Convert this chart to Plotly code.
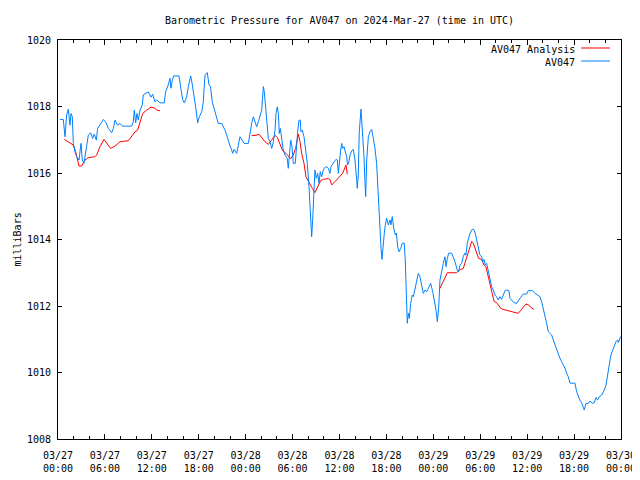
import pandas as pd
import plotly.graph_objects as go

# ---------------- data ----------------
BASE = "2024-03-27 00:00"

# AV047 observations: hours since 2024-03-27 00:00 UTC, pressure (mb)
obs_hours = [
    0.26, 0.68, 0.81, 0.90, 1.10, 1.32, 1.53, 1.66, 1.83, 1.96, 2.17, 2.39, 2.69, 2.94, 3.11,
    3.32, 3.58, 3.88, 4.18, 4.43, 4.64, 4.90, 5.07, 5.46, 5.80, 6.09, 6.44, 6.86, 7.08, 7.29,
    7.59, 7.93, 8.23, 9.42, 9.63, 9.76, 9.93, 10.10, 10.27, 10.49, 10.78, 10.91, 11.34, 11.55,
    11.89, 12.11, 12.40, 12.62, 13.04, 13.59, 13.77, 14.10, 14.32, 14.45, 14.62, 14.79, 15.47,
    15.73, 15.94, 16.15, 16.45, 16.67, 16.97, 17.18, 17.43, 17.60, 17.86, 18.07, 18.38, 18.58,
    18.80, 19.09, 19.31, 19.50, 19.73, 20.08, 20.29, 20.50, 20.93, 21.14, 21.36, 21.57, 21.78,
    22.00, 22.21, 22.34, 22.51, 22.72, 22.85, 23.06, 23.27, 23.49, 23.79, 24.34, 24.55, 24.77,
    24.98, 25.19, 25.41, 25.62, 25.83, 26.05, 26.17, 26.26, 26.38, 26.51, 26.69, 26.90, 27.11,
    27.33, 27.54, 27.75, 27.88, 28.05, 28.18, 28.30, 28.43, 28.60, 28.81, 29.03, 29.32, 29.45,
    29.58, 29.76, 29.93, 30.09, 30.35, 30.53, 30.65, 30.82, 30.99, 31.07, 31.24, 31.46, 31.71,
    31.88, 32.10, 32.23, 32.35, 32.44, 32.57, 32.74, 32.86, 33.03, 33.21, 33.38, 33.54, 33.72,
    33.93, 34.14, 34.36, 34.57, 34.78, 34.91, 35.12, 35.33, 35.55, 35.72, 35.85, 35.98, 36.15,
    36.28, 36.40, 36.57, 36.74, 36.92, 37.04, 37.21, 37.34, 37.56, 37.76, 37.98, 38.20, 38.27,
    38.40, 38.53, 38.75, 38.96, 39.13, 39.26, 39.35, 39.48, 39.69, 39.90, 40.11, 40.32, 40.54,
    40.75, 40.88, 41.01, 41.18, 41.30, 41.43, 41.56, 41.73, 41.86, 42.03, 42.24, 42.46, 42.58,
    42.75, 42.97, 43.14, 43.27, 43.44, 43.61, 43.83, 44.03, 44.28, 44.41, 44.50, 44.59, 44.67,
    44.80, 44.93, 45.10, 45.31, 45.44, 45.65, 45.87, 46.08, 46.29, 46.51, 46.72, 46.93, 47.15,
    47.36, 47.66, 47.92, 48.08, 48.34, 48.51, 48.68, 48.85, 49.07, 49.27, 49.49, 49.62, 49.79,
    49.96, 50.35, 50.56, 50.77, 51.06, 51.24, 51.41, 51.62, 51.83, 52.01, 52.17, 52.34, 52.52,
    52.69, 52.98, 53.20, 53.36, 53.54, 53.75, 53.96, 54.18, 54.31, 54.48, 54.65, 54.82, 55.03,
    55.24, 55.46, 55.67, 55.88, 56.09, 56.31, 56.52, 56.73, 56.95, 57.16, 57.37, 57.67, 57.80,
    58.02, 58.31, 58.66, 58.91, 59.08, 59.50, 59.93, 60.14, 60.70, 61.00, 61.29, 61.64, 61.85,
    62.06, 62.28, 62.49, 62.70, 63.13, 63.34, 63.55, 63.77, 63.98, 64.19, 64.40, 64.62, 64.83,
    65.05, 65.26, 65.47, 66.11, 66.33, 66.54, 66.75, 66.97, 67.18, 67.30, 67.52, 67.82, 68.03,
    68.37, 68.58, 68.80, 69.01, 69.22, 69.52, 69.86, 70.08, 70.29, 70.50, 70.72, 70.93, 71.14,
    71.36, 71.57, 71.65, 71.96,
]
obs_mb = [
    1017.61, 1017.61, 1017.29, 1017.09, 1017.74, 1017.92, 1017.44, 1017.79, 1017.69, 1016.89,
    1016.64, 1016.49, 1016.39, 1016.89, 1016.39, 1016.29, 1016.69, 1017.14, 1017.21, 1017.04,
    1017.17, 1016.99, 1017.34, 1017.49, 1017.61, 1017.54, 1017.34, 1017.21, 1017.34, 1017.59,
    1017.44, 1017.49, 1017.41, 1017.41, 1017.54, 1017.89, 1017.51, 1017.79, 1017.59, 1017.89,
    1018.05, 1018.35, 1018.40, 1018.44, 1018.28, 1018.37, 1018.14, 1018.20, 1018.11, 1018.11,
    1018.45, 1018.65, 1018.85, 1018.55, 1018.80, 1018.92, 1018.92, 1018.50, 1018.20, 1018.11,
    1018.29, 1018.60, 1018.92, 1018.65, 1018.29, 1017.99, 1017.51, 1017.69, 1017.84, 1018.14,
    1018.95, 1019.02, 1018.65, 1018.60, 1018.14, 1017.84, 1017.69, 1017.49, 1017.49, 1017.41,
    1017.29, 1017.14, 1016.94, 1016.81, 1016.69, 1016.59, 1016.71, 1016.64, 1016.59, 1016.84,
    1017.09, 1017.01, 1016.89, 1016.89, 1017.24, 1017.49, 1017.69, 1017.54, 1017.39, 1017.54,
    1017.69, 1017.89, 1018.29, 1018.60, 1018.45, 1018.05, 1017.44, 1017.04, 1016.94, 1016.74,
    1016.94, 1017.29, 1017.79, 1017.99, 1017.79, 1017.19, 1017.34, 1017.09, 1016.69, 1016.54,
    1016.44, 1016.14, 1016.49, 1016.99, 1016.79, 1016.29, 1016.29, 1016.99, 1017.24, 1017.59,
    1017.59, 1017.24, 1017.29, 1017.09, 1016.69, 1016.29, 1015.59, 1015.09, 1014.39, 1014.08,
    1014.59, 1015.39, 1016.09, 1015.84, 1015.99, 1015.69, 1016.04, 1015.89, 1016.09, 1016.17,
    1016.19, 1016.14, 1015.99, 1016.19, 1016.29, 1016.34, 1016.41, 1016.39, 1015.99, 1016.39,
    1016.69, 1016.89, 1016.74, 1016.79, 1016.64, 1016.49, 1016.24, 1016.34, 1016.54, 1016.67,
    1016.71, 1016.39, 1015.79, 1015.54, 1015.94, 1017.24, 1017.92, 1017.19, 1016.49, 1015.69,
    1015.29, 1016.39, 1017.09, 1017.24, 1017.31, 1017.04, 1016.74, 1016.29, 1015.59, 1014.99,
    1014.44, 1013.78, 1013.40, 1013.89, 1014.19, 1014.44, 1014.64, 1014.44, 1014.59, 1014.44,
    1014.69, 1014.29, 1014.14, 1014.19, 1013.78, 1013.63, 1013.73, 1013.89, 1013.89, 1013.38,
    1012.78, 1012.23, 1011.48, 1011.78, 1011.63, 1012.08, 1012.33, 1012.28, 1012.53, 1012.73,
    1012.98, 1012.88, 1012.63, 1012.38, 1012.48, 1012.43, 1012.53, 1012.68, 1012.43, 1012.23,
    1011.88, 1011.53, 1011.93, 1012.78, 1013.08, 1013.28, 1013.48, 1013.18, 1013.43, 1013.59,
    1013.59, 1013.48, 1013.33, 1013.08, 1013.03, 1013.23, 1013.28, 1013.48, 1013.59, 1013.53,
    1013.89, 1014.04, 1014.19, 1014.31, 1014.29, 1014.19, 1014.01, 1013.78, 1013.53, 1013.48,
    1013.33, 1013.40, 1013.23, 1013.28, 1013.03, 1012.78, 1012.58, 1012.48, 1012.33, 1012.28,
    1012.18, 1012.28, 1012.20, 1012.33, 1012.46, 1012.48, 1012.46, 1012.23, 1012.18, 1012.10,
    1012.08, 1012.18, 1012.23, 1012.36, 1012.36, 1012.46, 1012.46, 1012.38, 1012.33, 1012.28,
    1012.13, 1011.93, 1011.73, 1011.48, 1011.23, 1011.13, 1010.98, 1010.83, 1010.73, 1010.58,
    1010.43, 1010.33, 1010.23, 1010.13, 1009.98, 1009.87, 1009.68, 1009.68, 1009.42, 1009.29,
    1009.17, 1009.09, 1008.97, 1008.87, 1009.07, 1009.07, 1009.14, 1009.07, 1009.09, 1009.25,
    1009.17, 1009.27, 1009.32, 1009.47, 1009.62, 1009.98, 1010.23, 1010.53, 1010.68, 1010.83,
    1010.93, 1010.98, 1010.90, 1011.08,
]

# AV047 Analysis (None = gap)
ana_hours = [
    0.81, 1.53, 1.96, 2.26, 2.69, 3.03, 3.45, 3.88, 4.73, 4.94, 5.37, 5.88, 6.22, 6.73, 7.29,
    7.93, 8.99, 9.42, 9.85, 10.19, 10.49, 10.83, 11.34, 11.89, 12.40, 12.62, 13.04,
    18.00,
    24.77, 25.19, 25.74, 26.05, 26.47, 26.90, 27.33, 27.75, 28.05, 28.39, 28.73, 29.16, 29.45,
    29.76, 30.09, 30.39, 30.73, 30.95, 31.16, 31.46, 31.71, 32.14, 32.52, 32.86, 33.16, 33.59,
    33.93, 34.57, 34.78, 35.00, 35.42, 35.98, 36.40, 36.83, 37.00,
    42.00,
    48.85, 49.27, 49.79, 50.98, 51.32, 51.83, 52.26, 52.56, 52.90, 53.10, 53.45, 53.79, 54.18,
    54.48, 54.73, 55.03, 55.33, 55.59, 55.75, 56.18, 56.61, 57.03, 57.80, 58.66, 58.86, 59.50,
    59.85, 60.20, 60.45, 60.87,
]
ana_mb = [
    1017.01, 1016.91, 1016.84, 1016.64, 1016.21, 1016.21, 1016.39, 1016.46, 1016.49, 1016.54,
    1016.79, 1017.01, 1016.89, 1016.74, 1016.81, 1016.94, 1016.97, 1017.11, 1017.24, 1017.29,
    1017.54, 1017.79, 1017.89, 1017.98, 1017.95, 1017.89, 1017.87,
    None,
    1017.13, 1017.13, 1017.16, 1017.07, 1016.94, 1016.86, 1016.99, 1017.13, 1017.07, 1016.84,
    1016.67, 1016.59, 1016.51, 1016.43, 1016.54, 1016.74, 1017.17, 1016.94, 1016.59, 1016.29,
    1015.89, 1015.69, 1015.54, 1015.41, 1015.54, 1015.77, 1015.81, 1015.83, 1015.81, 1015.64,
    1015.74, 1015.87, 1015.99, 1016.24, 1015.96,
    None,
    1012.53, 1012.73, 1013.00, 1013.00, 1013.08, 1013.13, 1013.48, 1013.73, 1013.94, 1013.89,
    1013.63, 1013.43, 1013.40, 1013.23, 1013.18, 1012.88, 1012.53, 1012.22, 1012.15, 1012.08,
    1011.93, 1011.89, 1011.85, 1011.80, 1011.78, 1011.96, 1012.06, 1012.03, 1011.96, 1011.90,
]

series_names = ["AV047 Analysis", "AV047"]
series_colors = ["#ff0000", "#0080ff"]
y_range = [1008, 1020]
x_range = ["2024-03-27 00:00", "2024-03-30 00:00"]

# ---------------- figure ----------------
base = pd.Timestamp(BASE)
obs_t = base + pd.to_timedelta(obs_hours, unit="h")
ana_t = base + pd.to_timedelta(ana_hours, unit="h")

FONT = "DejaVu Sans Mono"

fig = go.Figure()
fig.add_trace(go.Scatter(x=ana_t, y=ana_mb, mode="lines", name=series_names[0],
                         line=dict(color=series_colors[0], width=1), connectgaps=False))
fig.add_trace(go.Scatter(x=obs_t, y=obs_mb, mode="lines", name=series_names[1],
                         line=dict(color=series_colors[1], width=1)))

# the page body has an 8px margin: size the figure so the plot box lands at
# page pixels x 58..621, y 40..439
OFF = 8
W, H = 640 - OFF, 480 - OFF
L, T = 58 - OFF, 40 - OFF
R, B = W - (621 - OFF), H - (439 - OFF)
pw, ph = W - L - R, H - T - B


def px(x):
    return (x - OFF - L) / pw


def py(y):
    return (H - B - (y - OFF)) / ph


fig.update_layout(
    width=W, height=H,
    margin=dict(l=L, r=R, t=T, b=B, autoexpand=False),
    paper_bgcolor="white", plot_bgcolor="white",
    showlegend=False,
    font=dict(family=FONT, size=10, color="black"),
    title=dict(text="Barometric Pressure for AV047 on 2024-Mar-27 (time in UTC)",
               x=0.5, xref="paper", xanchor="center",
               y=1 - (20 - OFF) / H, yref="container", yanchor="middle", automargin=False,
               font=dict(family=FONT, size=10, color="black")),
)

fig.update_xaxes(
    range=x_range, type="date", automargin=False,
    tick0="2024-03-27 00:00", dtick=6 * 3600 * 1000,
    tickformat="%m/%d<br>%H:%M",
    ticks="inside", ticklen=5, tickcolor="black", tickwidth=1,
    ticklabelstandoff=7,
    minor=dict(ticks="inside", dtick=2 * 3600 * 1000, ticklen=3, tickcolor="black"),
    showline=True, linecolor="black", linewidth=1, mirror="ticks",
    showgrid=False, zeroline=False,
    tickfont=dict(family=FONT, size=10, color="black"),
)
fig.update_yaxes(
    range=y_range, dtick=2, tick0=1008, automargin=False,
    ticks="inside", ticklen=4, tickcolor="black", tickwidth=1,
    ticklabelstandoff=4,
    showline=True, linecolor="black", linewidth=1, mirror="ticks",
    showgrid=False, zeroline=False,
    tickfont=dict(family=FONT, size=10, color="black"),
)

# y-axis label (kept inside the figure, which starts at page x = 8)
fig.add_annotation(text="milliBars", xref="paper", yref="paper",
                   x=px(9), y=py(240), textangle=-90, showarrow=False,
                   xanchor="left", yanchor="middle",
                   font=dict(family=FONT, size=10, color="black"))

# custom legend (text left of sample, gnuplot style)
legend_rows = [49, 62]
for name, color, ry in zip(series_names, series_colors, legend_rows):
    fig.add_annotation(text=name, xref="paper", yref="paper",
                       x=px(577), y=py(ry), showarrow=False,
                       xanchor="right", yanchor="middle",
                       font=dict(family=FONT, size=10, color="black"))
    fig.add_shape(type="line", xref="paper", yref="paper",
                  x0=px(581), x1=px(610), y0=py(ry - 1), y1=py(ry - 1),
                  line=dict(color=color, width=1))

fig.write_html("out.html")
